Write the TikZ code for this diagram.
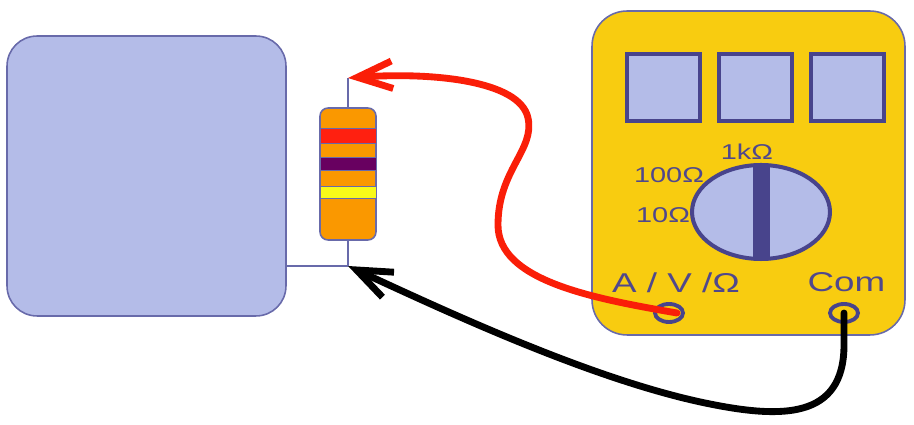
\documentclass[tikz,border=0pt]{standalone}
\usepackage{fontspec}
\setmainfont{Liberation Sans}
\usetikzlibrary{shapes.geometric,arrows.meta,calc}
\definecolor{panel}{RGB}{180,188,232}
\definecolor{edge}{RGB}{104,106,170}
\definecolor{knob}{RGB}{72,68,140}
\definecolor{meterbody}{RGB}{248,204,16}
\definecolor{bodyorange}{RGB}{250,152,0}
\definecolor{bandred}{RGB}{255,32,16}
\definecolor{bandpurple}{RGB}{104,0,96}
\definecolor{bandyellow}{RGB}{248,250,24}
\definecolor{wirered}{RGB}{250,30,8}
\definecolor{labelcol}{RGB}{80,72,140}

\begin{document}
\begin{tikzpicture}[x=0.02cm, y=-0.02cm,
	window/.style={rectangle, draw=knob, line width=2.3pt, fill=panel, minimum width=1.46cm, minimum height=1.34cm, inner sep=0pt},
	jack/.style={ellipse, draw=knob, line width=2.2pt, fill=meterbody, minimum width=0.56cm, minimum height=0.36cm, inner sep=0pt},
	band/.style={rectangle, draw=edge, line width=0.5pt, minimum width=1.12cm, inner sep=0pt},
	lead/.style={draw=edge, line width=0.9pt},
	probe/.style={line width=3.9pt, line cap=round, -{Straight Barb[length=0.7cm, width=0.55cm]}},
	dial label/.style={text=labelcol, xscale=1.35, anchor=base, inner sep=0pt, font=\fontsize{12.2}{13}\selectfont},
	jack label/.style={text=labelcol, xscale=1.35, anchor=base, inner sep=0pt, font=\fontsize{15.5}{16}\selectfont}]

\useasboundingbox (0,0) rectangle (914,425);

% Circuit board
\node[rectangle, rounded corners=0.6cm, draw=edge, line width=0.9pt, fill=panel, minimum width=5.58cm, minimum height=5.6cm] (board) at (146.5,176) {};

% Multimeter
\node[rectangle, rounded corners=0.7cm, draw=edge, line width=0.9pt, fill=meterbody, minimum width=6.26cm, minimum height=6.48cm] (meter) at (748.5,173) {};

% Display
\foreach \i/\x in {1/663.5, 2/755.5, 3/847.5}
	\node[window] (win\i) at (\x,87.5) {};

% Range dial
\node[ellipse, draw=knob, line width=2.3pt, fill=panel, minimum width=2.76cm, minimum height=1.88cm, inner sep=0pt] (dial) at (761,212) {};
\node[rectangle, fill=knob, minimum width=0.34cm, minimum height=1.92cm, inner sep=0pt] (pointer) at (761.5,211.5) {};
\node[dial label] (r1k) at (747,160) {1kΩ};
\node[dial label] (r100) at (669,183) {100Ω};
\node[dial label] (r10) at (663,223) {10Ω};

% Jacks
\node[jack] (vohm) at (669,313) {};
\node[jack] (com) at (844,313) {};
\node[jack label] (vohmlabel) at (676,293) {A / V /Ω};
\node[jack label] (comlabel) at (846.5,292) {Com};

% Resistor
\node[rectangle, rounded corners=0.16cm, draw=edge, line width=0.9pt, fill=bodyorange, minimum width=1.12cm, minimum height=2.64cm, inner sep=0pt] (resistor) at (348,174) {};
\node[band, fill=bandred, minimum height=0.3cm] (band1) at (348,135.5) {};
\node[band, fill=bandpurple, minimum height=0.26cm] (band2) at (348,163.5) {};
\node[band, fill=bandyellow, minimum height=0.24cm] (band3) at (348,192) {};

\coordinate (rtop) at (348,78);
\coordinate (rjoin) at (348,266);
\draw[lead] (rtop) -- (resistor.north);
\draw[lead] (resistor.south) -- (rjoin);
\draw[lead] (board.east |- rjoin) -- (rjoin);

% Test leads
\draw[probe, wirered] ($(vohm.center)+(8,0)$) .. controls (590,298) and (498,280) .. (498,225)
	.. controls (498,170) and (535,150) .. (528,118)
	.. controls (520,80) and (430,72) .. (rtop);
\draw[probe, black] (com.center) -- ++(0,32)
	.. controls (844,420) and (780,418) .. (710,404)
	.. controls (600,382) and (460,318) .. (rjoin);
\end{tikzpicture}
\end{document}
